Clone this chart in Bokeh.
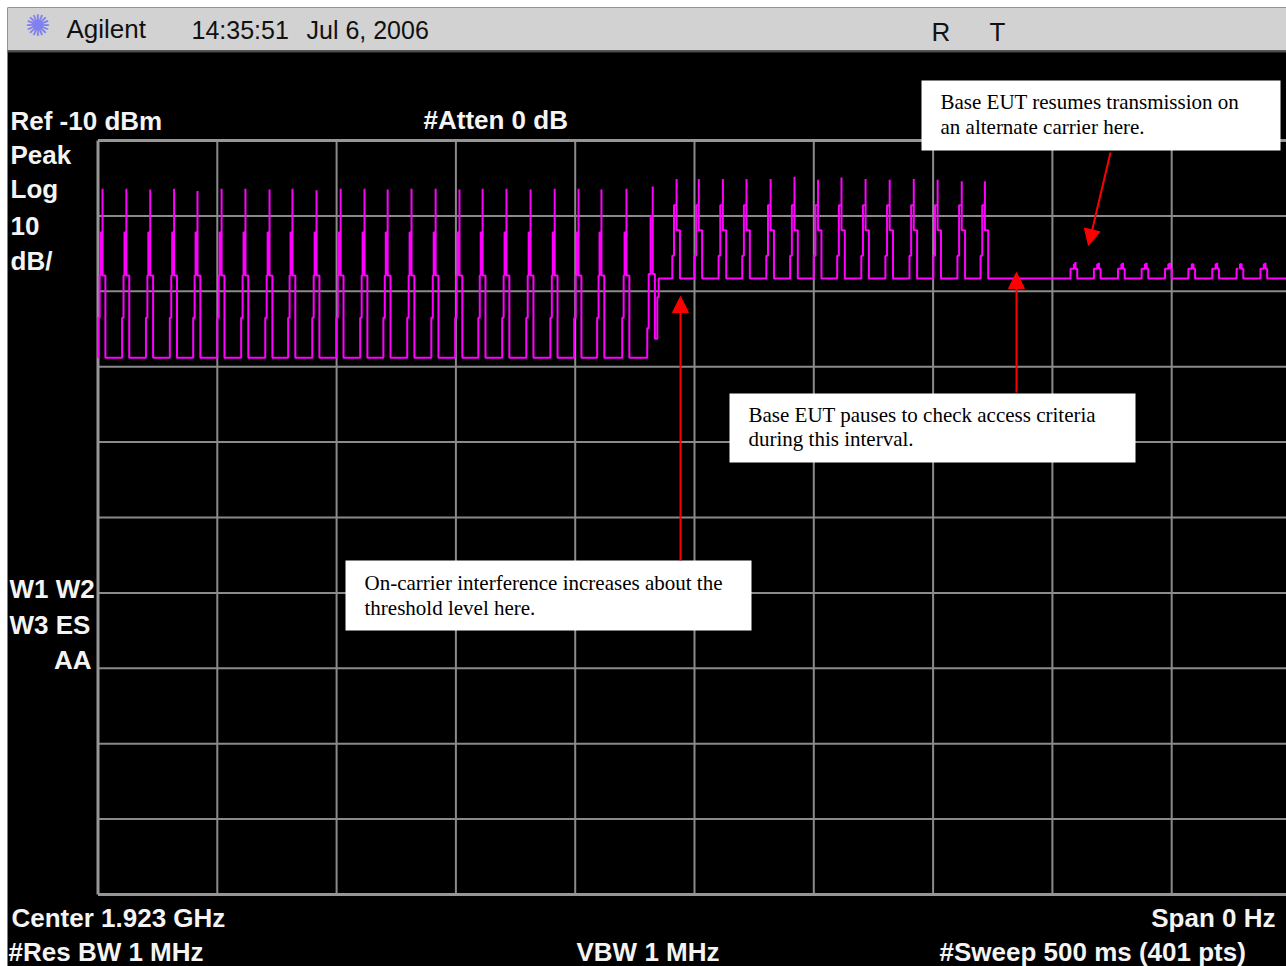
import numpy as np
from bokeh.plotting import figure
from bokeh.models import Label, BoxAnnotation, Arrow, NormalHead, Range1d
from bokeh.embed import file_html
from bokeh.resources import INLINE

# ---------------- data ----------------
time_grid_ms = [0, 50, 100, 150, 200, 250, 300, 350, 400, 450, 500]
level_grid_dbm = [-10, -20, -30, -40, -50, -60, -70, -80, -90, -100, -110]

# segment 1: bursts before the interference rises
seg1_spike_ms = [1.9, 11.9, 21.9, 31.9, 41.7, 51.8, 61.8, 71.9, 81.5, 91.6, 101.7, 111.7,
                 121.4, 131.4, 141.5, 151.5, 161.2, 171.2, 181.3, 191.4, 201.4, 211.0, 221.5]
seg1_peak_dbm = [-16.4, -16.4, -16.5, -16.4, -16.7, -16.4, -16.4, -16.5, -16.4, -16.6, -16.4, -16.4,
                 -16.5, -16.4, -16.4, -16.5, -16.4, -16.4, -16.5, -16.4, -16.4, -16.5, -16.4]
seg1_base_dbm = -38.8
seg1_rise_dt_ms = [-1.8, -1.2, -0.8]
seg1_rise_dbm = [-33.5, -27.9, -22.2]
seg1_fall_dt_ms = 1.2
seg1_fall_dbm = -27.9

# burst during which the interference floor rises
trans_ms = [230.2, 230.8, 231.6, 232.5, 232.5, 233.4, 234.4, 235.0]
trans_dbm = [-34.9, -27.7, -20.0, -16.1, -27.7, -36.3, -30.8, -28.3]

# segment 2: bursts above the raised floor
seg2_spike_ms = [242.5, 251.8, 261.9, 271.8, 281.9, 291.9, 301.8, 311.6, 321.7, 331.8,
                 341.9, 351.9, 362.0, 371.7]
seg2_peak_dbm = [-15.1, -15.1, -15.1, -15.1, -15.1, -14.8, -15.2, -14.9, -15.1, -15.2,
                 -15.1, -15.2, -15.4, -15.4]
seg2_base_dbm = -28.3
seg2_rise_dt_ms = [-1.8, -1.1]
seg2_rise_dbm = [-25.3, -18.6]
seg2_fall_dt_ms = 1.4
seg2_fall_dbm = -21.9

# segment 3: small bumps (alternate carrier)
seg3_bump_ms = [409.7, 419.5, 429.6, 439.5, 449.3, 459.1, 469.1, 479.3, 489.3]
seg3_peak_dbm = [-26.1, -26.2, -26.2, -26.2, -26.2, -26.4, -26.2, -26.3, -26.2]
seg3_rise_dt_ms = [-2.1, -0.7]
seg3_rise_dbm = [-27.0, -26.4]
seg3_fall_dt_ms = 0.7
seg3_fall_dbm = -27.0

trace_gap_ms = [477.9, 478.5]
sweep_end_ms = 500.0

# ---------------- build the step trace ----------------
def add_pulses(ts, ys, spikes, peaks, rise_dt, rise_db, fall_dt, fall_db, base):
    for s, pk in zip(spikes, peaks):
        for d, lv in zip(rise_dt, rise_db):
            ts.append(s + d)
            ys.append(lv)
        ts += [s, s, s + fall_dt]
        ys += [pk, fall_db, base]

ts, ys = [0.0], [seg1_base_dbm]
add_pulses(ts, ys, seg1_spike_ms, seg1_peak_dbm, seg1_rise_dt_ms, seg1_rise_dbm,
           seg1_fall_dt_ms, seg1_fall_dbm, seg1_base_dbm)
ts += trans_ms
ys += trans_dbm
add_pulses(ts, ys, seg2_spike_ms, seg2_peak_dbm, seg2_rise_dt_ms, seg2_rise_dbm,
           seg2_fall_dt_ms, seg2_fall_dbm, seg2_base_dbm)
add_pulses(ts, ys, seg3_bump_ms, seg3_peak_dbm, seg3_rise_dt_ms, seg3_rise_dbm,
           seg3_fall_dt_ms, seg3_fall_dbm, seg2_base_dbm)
ts.append(sweep_end_ms)
ys.append(seg2_base_dbm)
ts = np.array(ts)
ys = np.array(ys)

g0, g1 = trace_gap_ms
ia = ts <= g0
ta = np.append(ts[ia], g0)
ya = np.append(ys[ia], ys[ia][-1])
ib = ts >= g1
tb = np.insert(ts[ib], 0, g1)
yb = np.insert(ys[ib], 0, ys[ts < g1][-1])

# ---------------- layout ----------------
W, H = 1286, 966
ML, MT = 7, 7                       # white margin left / top
FW, FH = W - ML, H - MT             # frame size
PX_PER_MS = 1193.0 / 500.0
PX_PER_DB = 754.0 / 100.0
X0_PX = 97.5 - ML                   # frame x of 0 ms
YTOP_PX = 140 - MT                  # frame y (from top) of -10 dBm

x_start = -X0_PX / PX_PER_MS
x_end = (FW - X0_PX) / PX_PER_MS
y_end = -10 + YTOP_PX / PX_PER_DB
y_start = y_end - FH / PX_PER_DB

p = figure(width=W, height=H, x_range=Range1d(x_start, x_end), y_range=Range1d(y_start, y_end),
           output_backend="svg", toolbar_location=None, x_axis_location=None,
           y_axis_location=None, min_border=0, min_border_left=ML, min_border_top=MT,
           min_border_right=0, min_border_bottom=0, background_fill_color="black",
           border_fill_color="white", outline_line_color=None)
for g in p.grid:
    g.visible = False

def sx(xr):
    return xr - ML

def sy(yr):
    return H - yr

# graticule
t_in = [t for t in time_grid_ms[1:-1]]
l_in = [l for l in level_grid_dbm[1:-1]]
grid_col = "#8a8a8a"
p.segment(x0=t_in, x1=t_in, y0=[level_grid_dbm[-1]] * len(t_in), y1=[level_grid_dbm[0]] * len(t_in),
          line_color=grid_col, line_width=2)
p.segment(x0=[time_grid_ms[0]] * len(l_in), x1=[time_grid_ms[-1]] * len(l_in), y0=l_in, y1=l_in,
          line_color=grid_col, line_width=2)
bt = [time_grid_ms[0], time_grid_ms[-1]]
bl = [level_grid_dbm[0], level_grid_dbm[-1]]
p.segment(x0=bt, x1=bt, y0=[bl[1]] * 2, y1=[bl[0]] * 2, line_color="#969696", line_width=3)
p.segment(x0=[bt[0]] * 2, x1=[bt[1]] * 2, y0=bl, y1=bl, line_color="#969696", line_width=3)

# trace
p.step(ta, ya, mode="after", line_color="#ff00ff", line_width=2)
p.step(tb, yb, mode="after", line_color="#ff00ff", line_width=2)

def box(l, r, t, b, color):
    p.add_layout(BoxAnnotation(left=sx(l), right=sx(r), top=sy(t), bottom=sy(b),
                               left_units="screen", right_units="screen",
                               top_units="screen", bottom_units="screen",
                               fill_color=color, fill_alpha=1.0, line_color=None))

# header bar
box(ML, W + 10, MT, 50, "#d2d2d2")
box(ML, W + 10, 50, 52, "#4a4a4a")

# annotation boxes
box(921, 1280, 80, 150, "white")
box(729, 1135, 393, 462, "white")
box(345, 751, 560, 630, "white")

# arrows
for (x0, y0, x1, y1) in [(1110, 152, 1088, 245), (1016, 392, 1016, 272), (680, 560, 680, 296)]:
    p.add_layout(Arrow(x_start=sx(x0), y_start=sy(y0), x_end=sx(x1), y_end=sy(y1),
                       start_units="screen", end_units="screen",
                       line_color="#ff0000", line_width=2,
                       end=NormalHead(size=16, fill_color="#ff0000", line_color="#ff0000")))

def label(text, x, y, size, color, font="Liberation Sans", style="normal", align="left",
          baseline="alphabetic"):
    fs = float(size.replace("px", ""))
    yy = y - 0.37 * fs if baseline == "alphabetic" else y
    p.add_layout(Label(x=sx(x), y=sy(yy), x_units="screen", y_units="screen", text=text,
                       text_font=font, text_font_size=size, text_font_style=style,
                       text_color=color, text_align=align, text_baseline=baseline))

# header texts
label("\u273A", 37, 25, "30px", "#8080f0", font="DejaVu Sans", align="center", baseline="middle")
label("Agilent", 66, 38, "26px", "#111111")
label("14:35:51", 191, 39, "25px", "#111111")
label("Jul 6, 2006", 306, 39, "25px", "#111111")
label("R", 931, 41, "26px", "#111111")
label("T", 989, 41, "26px", "#111111")

# instrument annotations (white bold)
wb = dict(size="26px", color="#f4f4f4", style="bold")
label("Ref -10 dBm", 10, 130, **wb)
label("#Atten 0 dB", 423, 129, **wb)
label("Peak", 10, 164, **wb)
label("Log", 10, 198, **wb)
label("10", 10, 235, **wb)
label("dB/", 10, 270, **wb)
label("W1 W2", 9, 598, **wb)
label("W3 ES", 9, 634, **wb)
label("AA", 91, 669, align="right", **wb)
label("Center 1.923 GHz", 11, 927, **wb)
label("Span 0 Hz", 1275, 927, align="right", **wb)
label("#Res BW 1 MHz", 8, 961, **wb)
label("VBW 1 MHz", 576, 961, **wb)
label("#Sweep 500 ms (401 pts)", 939, 961, **wb)

# callout texts
sf = dict(size="21px", color="black", font="Liberation Serif")
label("Base EUT resumes transmission on", 940, 109, **sf)
label("an alternate carrier here.", 940, 134, **sf)
label("Base EUT pauses to check access criteria", 748, 422, **sf)
label("during this interval.", 748, 446, **sf)
label("On-carrier interference increases about the", 364, 590, **sf)
label("threshold level here.", 364, 615, **sf)

open("out.html", "w").write(file_html(p, INLINE))
